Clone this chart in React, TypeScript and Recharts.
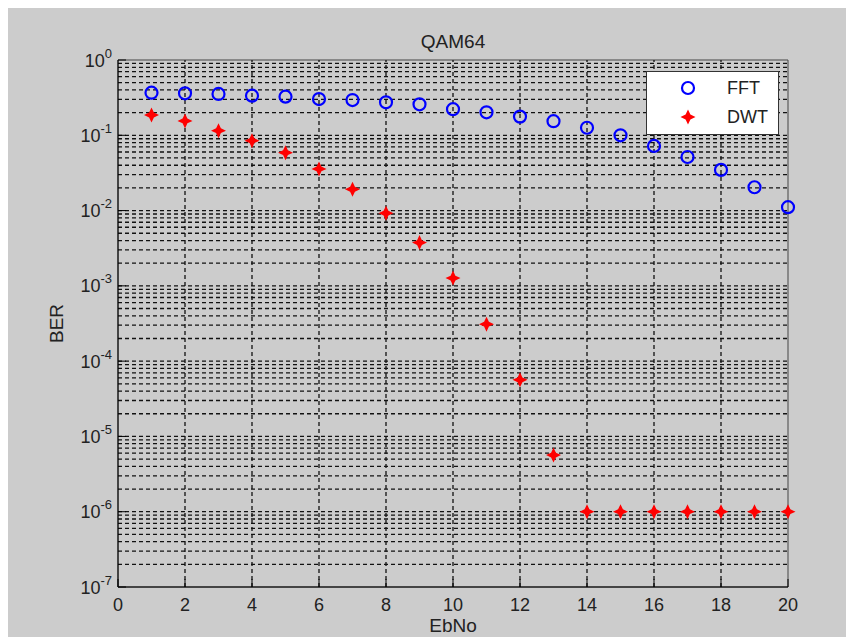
import React from "react";
import {
  ScatterChart,
  Scatter,
  XAxis,
  YAxis,
  ReferenceLine,
  ReferenceArea,
  Legend,
  Label,
} from "recharts";

const FONT = '"Liberation Sans", Arial, Helvetica, sans-serif';

// values
const ebNo = [1, 2, 3, 4, 5, 6, 7, 8, 9, 10, 11, 12, 13, 14, 15, 16, 17, 18, 19, 20];
const fftBer = [
  0.368, 0.361, 0.354, 0.336, 0.326, 0.303, 0.294, 0.274, 0.258, 0.222,
  0.202, 0.177, 0.154, 0.126, 0.1, 0.0722, 0.0515, 0.0347, 0.0204, 0.0111,
];
const dwtBer = [
  0.186, 0.155, 0.115, 0.0849, 0.0588, 0.0357, 0.0192, 0.00923, 0.00376, 0.00127,
  0.00031, 5.65e-5, 5.65e-6, 1e-6, 1e-6, 1e-6, 1e-6, 1e-6, 1e-6, 1e-6,
];
const seriesNames = ["FFT", "DWT"];
const xTicks = [0, 2, 4, 6, 8, 10, 12, 14, 16, 18, 20];
const yExponents = [-7, -6, -5, -4, -3, -2, -1, 0];
const chartTitle = "QAM64";

const yTicks = yExponents.map((e) => Math.pow(10, e));
const xGrid = xTicks.slice(1, -1);
const yGrid: number[] = [];
yExponents.slice(0, -1).forEach((e) => {
  for (let m = 1; m <= 9; m++) {
    if (e === -7 && m === 1) continue;
    yGrid.push(m * Math.pow(10, e));
  }
});

const fftData = ebNo.map((x, i) => ({ x, y: fftBer[i] }));
const dwtData = ebNo.map((x, i) => ({ x, y: dwtBer[i] }));

const Circle = ({ cx, cy }: any) => (
  <circle cx={cx} cy={cy} r={6} fill="none" stroke="#0000ff" strokeWidth={2.2} />
);

const Star = ({ cx, cy }: any) => {
  const r = 7.5;
  const w = 2.4;
  const d = `M${cx},${cy - r} L${cx + w},${cy - w} L${cx + r},${cy} L${cx + w},${cy + w} L${cx},${cy + r} L${cx - w},${cy + w} L${cx - r},${cy} L${cx - w},${cy - w} Z`;
  return <path d={d} fill="#ff0000" />;
};

const XTick = ({ x, y, payload }: any) => (
  <text x={x} y={y} textAnchor="middle" fill="#222" fontSize={18} fontFamily={FONT}>
    {payload.value}
  </text>
);

const YTick = ({ x, y, payload }: any) => {
  const exp = Math.round(Math.log10(payload.value));
  return (
    <text x={x} y={y + 6.5} textAnchor="end" fill="#222" fontSize={18} fontFamily={FONT}>
      10
      <tspan dy={-9} fontSize={13}>
        {exp}
      </tspan>
    </text>
  );
};

const renderLegend = () => (
  <div
    style={{
      width: 133,
      height: 64,
      background: "#fff",
      border: "1px solid #333",
      boxSizing: "border-box",
      position: "relative",
      fontFamily: FONT,
      fontSize: 18,
      color: "#222",
    }}
  >
    {seriesNames.map((name, i) => (
      <div
        key={name}
        style={{ position: "absolute", left: 0, top: 3 + i * 29, height: 26, display: "flex", alignItems: "center" }}
      >
        <svg width={80} height={26}>
          {i === 0 ? <Circle cx={41} cy={13} /> : <Star cx={41} cy={13} />}
        </svg>
        <span>{name}</span>
      </div>
    ))}
  </div>
);

export default function App() {
  return (
    <div style={{ width: 846, height: 629, background: "#cccccc", position: "relative" }}>
      <ScatterChart width={846} height={629} margin={{ top: 52, right: 66, bottom: 0, left: 0 }}>
        <XAxis
          type="number"
          dataKey="x"
          domain={[0, 20]}
          ticks={xTicks}
          height={50}
          tickSize={-8}
          tickMargin={32}
          tick={<XTick />}
          axisLine={{ stroke: "#000" }}
          tickLine={{ stroke: "#000" }}
        >
          <Label
            content={() => (
              <text x={445} y={624} textAnchor="middle" fill="#222" fontSize={19} fontFamily={FONT}>
                EbNo
              </text>
            )}
          />
        </XAxis>
        <YAxis
          type="number"
          dataKey="y"
          scale="log"
          domain={[1e-7, 1]}
          allowDataOverflow
          ticks={yTicks}
          width={110}
          tickSize={-8}
          tickMargin={14}
          tick={<YTick />}
          axisLine={{ stroke: "#000" }}
          tickLine={{ stroke: "#000" }}
        >
          <Label
            content={() => (
              <text
                x={55}
                y={315.5}
                transform="rotate(-90 55 315.5)"
                textAnchor="middle"
                fill="#222"
                fontSize={19}
                fontFamily={FONT}
              >
                BER
              </text>
            )}
          />
        </YAxis>
        {xGrid.map((v) => (
          <ReferenceLine key={"vx" + v} x={v} stroke="#111" strokeWidth={1.3} strokeDasharray="4 3" />
        ))}
        {yGrid.map((v) => (
          <ReferenceLine key={"hy" + v} y={v} stroke="#111" strokeWidth={1.3} strokeDasharray="4 3" />
        ))}
        <ReferenceArea
          x1={0}
          x2={20}
          y1={1e-7}
          y2={1}
          fill="none"
          fillOpacity={0}
          stroke="#444"
          label={{ value: chartTitle, position: "top", offset: 12, fill: "#222", fontSize: 19, fontFamily: FONT }}
        />
        <Scatter name={seriesNames[0]} data={fftData} shape={<Circle />} isAnimationActive={false} />
        <Scatter name={seriesNames[1]} data={dwtData} shape={<Star />} isAnimationActive={false} />
        <Legend
          layout="horizontal"
          verticalAlign="middle"
          align="center"
          content={renderLegend}
          wrapperStyle={{ left: 638, top: 63, width: 133, height: 64 }}
        />
      </ScatterChart>
    </div>
  );
}
